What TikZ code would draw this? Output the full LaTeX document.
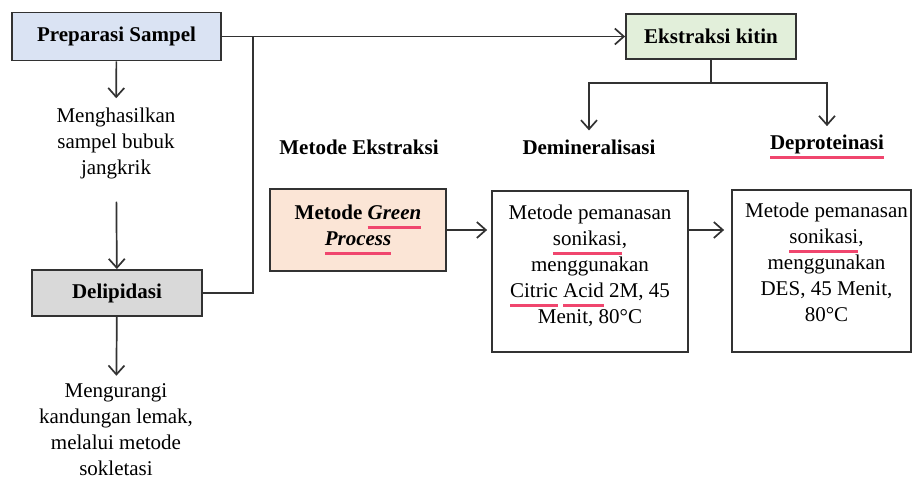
\documentclass[tikz,border=0pt]{standalone}
\usepackage{fontspec}
\setmainfont{Liberation Serif}
\usepackage{tikz}
\usetikzlibrary{
  arrows.meta,
  positioning
}
\definecolor{LineGray}{RGB}{50, 50, 50}
\definecolor{PrepBlue}{RGB}{218, 227, 243}
\definecolor{KitinGreen}{RGB}{226, 239, 218}
\definecolor{LipidGray}{RGB}{217, 217, 217}
\definecolor{GreenPeach}{RGB}{251, 229, 214}
\definecolor{SpellRed}{RGB}{240, 70, 110}
\newsavebox\spellbox
\newcommand\spellmark[1]{\sbox\spellbox{#1}\leavevmode\rlap{\textcolor{SpellRed}{\rule[-0.42em]{\wd\spellbox}{0.11em}}}\usebox\spellbox}

\begin{document}
\begin{tikzpicture}[
        x=1pt, y=-1pt,
        every node/.style={font=\fontsize{21}{26}\selectfont, text=black},
        % boxes with a filled background
        box/.style={rectangle, draw=LineGray, line width=1.8pt, align=center, inner sep=0pt},
        plain/.style={align=center, inner sep=3pt},
        arrow/.style={draw=LineGray, line width=1.7pt, -{Straight Barb[length=9pt, width=16pt]}},
        link/.style={draw=LineGray, line width=1.7pt}
    ]
    \useasboundingbox (0,0) rectangle (914,481);

    % Left column
    \node[box, fill=PrepBlue, minimum width=209, minimum height=48] (prep) at (116.5,36.5) {\textbf{Preparasi Sampel}};
    \node[plain] (hasil) at (116,143) {Menghasilkan\\sampel bubuk\\jangkrik};
    \node[box, fill=LipidGray, minimum width=170, minimum height=46] (delip) at (117,293) {\textbf{Delipidasi}};
    \node[plain] (kurang) at (116,430) {Mengurangi\\kandungan lemak,\\melalui metode\\sokletasi};

    % Top right
    \node[box, fill=KitinGreen, minimum width=170, minimum height=45] (kitin) at (711,36.5) {\textbf{Ekstraksi kitin}};

    % Column headings
    \node[plain] (metode) at (359,147) {\textbf{Metode Ekstraksi}};
    \node[plain] (demin) at (589,147) {\textbf{Demineralisasi}};
    \node[plain] (depro) at (827,147) {\textbf{\spellmark{Deproteinasi}}};

    % Method boxes
    \node[box, fill=GreenPeach, minimum width=176, minimum height=82] (green) at (358,230) {\textbf{Metode \spellmark{\textit{Green}}}\\\textbf{\spellmark{\textit{Process}}}};
    \node[box, fill=white, minimum width=196, minimum height=161] (deminbox) at (590,271.5) {};
    \node[plain, below=12pt of deminbox.north] (demintext) {Metode pemanasan\\\spellmark{sonikasi},\\menggunakan\\\spellmark{Citric} \spellmark{Acid} 2M, 45\\Menit, 80°C};
    \node[box, fill=white, minimum width=179, minimum height=162] (deprobox) at (821.5,271) {};
    \node[plain, below=11pt of deprobox.north, xshift=5pt] (deprotext) {Metode pemanasan\\\spellmark{sonikasi},\\menggunakan\\DES, 45 Menit,\\80°C};

    % Helper points
    \coordinate (belok) at (253,36.5);
    \coordinate (cabang) at (711,83);

    % Arrows
    \draw[arrow, shorten >=6pt] (prep) -- (hasil);
    \draw[arrow, shorten <=20pt] (hasil) -- (delip);
    \draw[arrow, shorten >=5pt] (delip) -- (kurang);
    \draw[arrow] (prep) -- (kitin);
    \draw[link] (delip.east) -| (belok);
    \draw[link] (kitin.south) -- (cabang);
    \draw[arrow] (cabang) -| ([yshift=6pt]demin.north);
    \draw[arrow] (cabang) -| ([yshift=6pt]depro.north);
    \draw[arrow, shorten >=4pt] (green.east) -- (green.east -| deminbox.west);
    \draw[arrow, shorten >=7pt] (green.east -| deminbox.east) -- (green.east -| deprobox.west);

\end{tikzpicture}
\end{document}
